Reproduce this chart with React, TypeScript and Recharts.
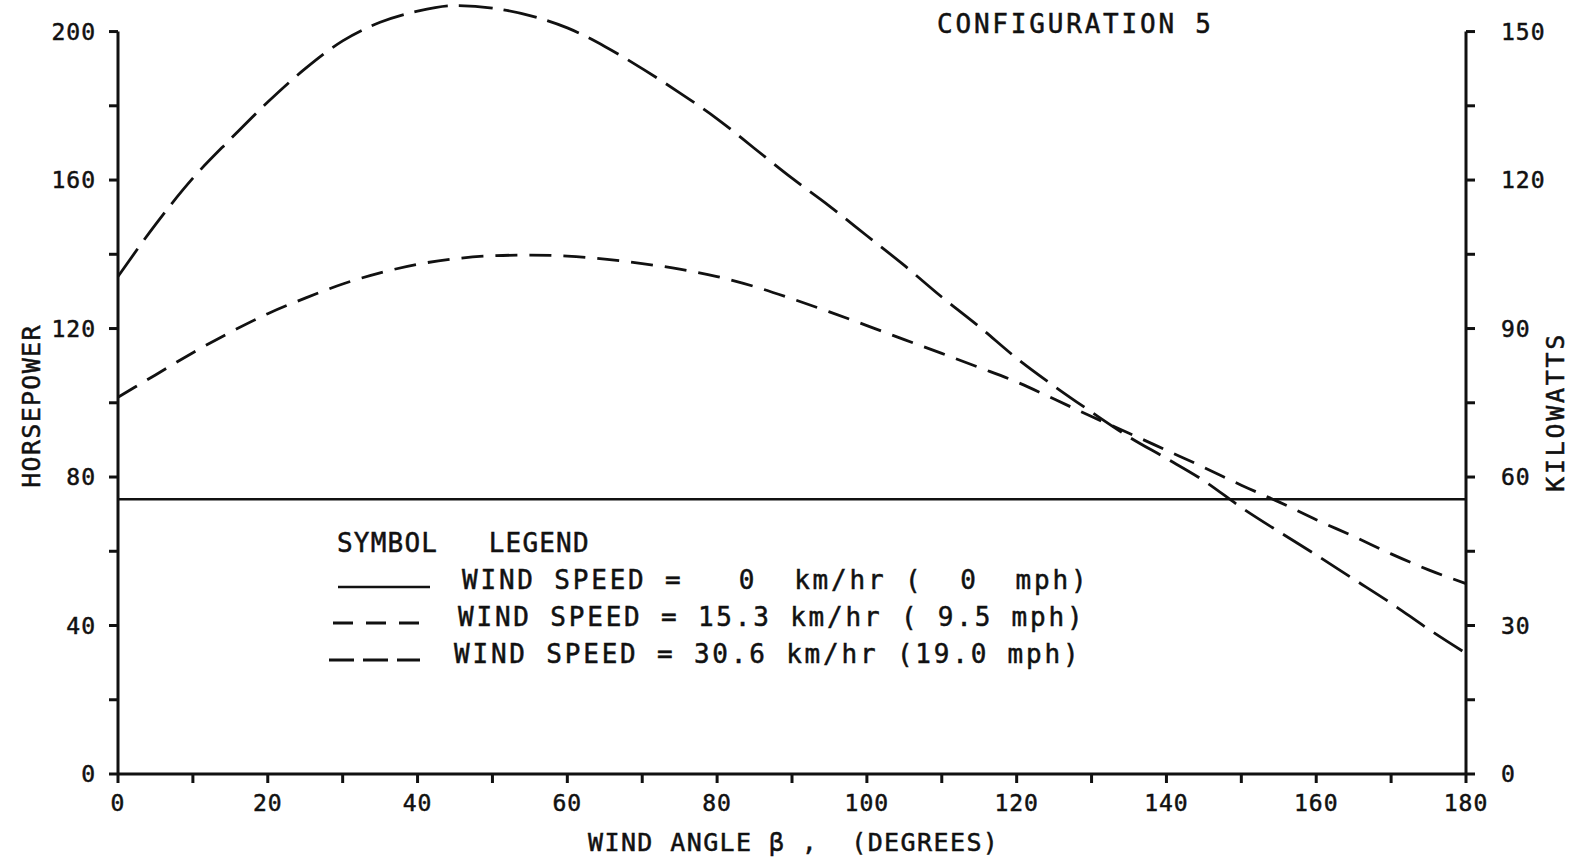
import { LineChart, Line, XAxis, YAxis, ReferenceLine } from 'recharts'

// wind angle beta, degrees
const angles = [
  0, 5, 10, 15, 20, 25, 30, 35, 40, 45, 50, 55, 60, 65, 70, 75, 80, 85, 90,
  95, 100, 105, 110, 115, 120, 125, 130, 135, 140, 145, 150, 155, 160, 165, 170, 175, 180,
]

// horsepower at 30.6 km/hr (19.0 mph)
const hpWind306 = [
  134, 148, 160.5, 171, 181, 190, 197.5, 202.5, 205.5, 207, 206.3, 204.3, 201, 196, 190,
  183.5, 176.5, 168.5, 160.5, 153, 145, 137, 128.5, 120.5, 112, 104.5, 97.5, 90.8, 85,
  79, 71.8, 65.3, 59, 52.5, 46, 39, 32.5,
]

// horsepower at 15.3 km/hr (9.5 mph)
const hpWind153 = [
  101.5, 107.5, 113.5, 119, 124, 128.2, 132, 135, 137.3, 138.8, 139.6, 139.8, 139.5, 138.7,
  137.5, 136, 134, 131.3, 128, 124.5, 120.8, 117, 113.3, 109.5, 105.6, 101, 96.3, 91.8,
  87.2, 82.6, 77.8, 73.3, 68.5, 64, 59.3, 55, 51.3,
]

// calm air, 0 km/hr
const calmAngles = [0, 180]
const calmHp = [74, 74]

const angleTicks = [0, 10, 20, 30, 40, 50, 60, 70, 80, 90, 100, 110, 120, 130, 140, 150, 160, 170, 180]
const hpTicks = [0, 20, 40, 60, 80, 100, 120, 140, 160, 180, 200]
const kwTicks = [0, 15, 30, 45, 60, 75, 90, 105, 120, 135, 150]

// the frame stops at 200 hp / 150 kW, the scale runs a little higher so the
// 30.6 km/hr peak can rise above the top tick without being clipped
const HP_TOP = 208.5
const KW_TOP = (HP_TOP * 150) / 200

const FONT = "'DejaVu Sans Mono', monospace"
const INK = '#111'
const SHORT_DASH = '22 12'
const LONG_DASH = '34 11'

const data = angles.map((a, i) => ({ angle: a, fast: hpWind306[i], slow: hpWind153[i] }))
const calmData = calmAngles.map((a, i) => ({ angle: a, calm: calmHp[i] }))

// plotter lettering is a bit heavier than the regular face
const tickStyle = { fontSize: 23, fill: INK, fontFamily: FONT, letterSpacing: 1, stroke: INK, strokeWidth: 0.5 }
const tickLine = { stroke: INK, strokeWidth: 3 }
const labelStyle = { fontFamily: FONT, fill: INK, stroke: INK, strokeWidth: 0.5, whiteSpace: 'pre' as const }

export default function App() {
  return (
    <div style={{ position: 'absolute', left: 0, top: 0, width: 1575, height: 859, background: '#fff' }}>
      <LineChart width={1575} height={859} data={data} margin={{ top: 0, right: 0, left: 0, bottom: 0 }}>
        <XAxis
          dataKey="angle"
          type="number"
          domain={[0, 180]}
          ticks={angleTicks}
          tickFormatter={(v) => (v % 20 === 0 ? String(v) : '')}
          height={85}
          tick={tickStyle}
          tickLine={tickLine}
          tickSize={9}
          tickMargin={12}
          stroke={INK}
          strokeWidth={3}
          allowDuplicatedCategory={false}
        />
        <YAxis
          yAxisId="hp"
          type="number"
          domain={[0, HP_TOP]}
          ticks={hpTicks}
          tickFormatter={(v) => (v % 40 === 0 ? String(v) : '')}
          width={118}
          tick={tickStyle}
          tickLine={tickLine}
          axisLine={false}
          tickSize={9}
          tickMargin={13}
        />
        <YAxis
          yAxisId="kw"
          orientation="right"
          type="number"
          domain={[0, KW_TOP]}
          ticks={kwTicks}
          tickFormatter={(v) => (v % 30 === 0 ? String(v) : '')}
          width={109}
          tick={tickStyle}
          tickLine={tickLine}
          axisLine={false}
          tickSize={9}
          tickMargin={26}
        />
        {/* side frame lines, 0 to 200 hp */}
        <ReferenceLine
          yAxisId="hp"
          segment={[{ x: 0, y: 0 }, { x: 0, y: 200 }]}
          stroke={INK}
          strokeWidth={3}
          ifOverflow="visible"
        />
        <ReferenceLine
          yAxisId="hp"
          segment={[{ x: 180, y: 0 }, { x: 180, y: 200 }]}
          stroke={INK}
          strokeWidth={3}
          ifOverflow="visible"
        />
        {/* keeps the kilowatt axis bound to a series; drawn with no stroke */}
        <Line
          yAxisId="kw"
          dataKey="slow"
          stroke="none"
          dot={false}
          activeDot={false}
          legendType="none"
          isAnimationActive={false}
        />
        <Line
          yAxisId="hp"
          data={calmData}
          dataKey="calm"
          stroke={INK}
          strokeWidth={2.6}
          dot={false}
          type="linear"
          isAnimationActive={false}
        />
        <Line
          yAxisId="hp"
          dataKey="slow"
          stroke={INK}
          strokeWidth={2.8}
          strokeDasharray={SHORT_DASH}
          dot={false}
          type="monotone"
          isAnimationActive={false}
        />
        <Line
          yAxisId="hp"
          dataKey="fast"
          stroke={INK}
          strokeWidth={2.8}
          strokeDasharray={LONG_DASH}
          dot={false}
          type="monotone"
          isAnimationActive={false}
        />
      </LineChart>

      <svg width={1575} height={859} style={{ position: 'absolute', left: 0, top: 0, pointerEvents: 'none' }}>
        <text x={937} y={24} dominantBaseline="central" fontSize={26} letterSpacing={2.8} style={labelStyle}>
          CONFIGURATION 5
        </text>
        <text
          transform="translate(31,406) rotate(-90)"
          textAnchor="middle"
          dominantBaseline="central"
          fontSize={25}
          letterSpacing={1.3}
          style={labelStyle}
        >
          HORSEPOWER
        </text>
        <text
          transform="translate(1555,412) rotate(-90)"
          textAnchor="middle"
          dominantBaseline="central"
          fontSize={25}
          letterSpacing={2.7}
          style={labelStyle}
        >
          KILOWATTS
        </text>
        <text x={588} y={842} dominantBaseline="central" fontSize={25} letterSpacing={1.4} style={labelStyle}>
          {'WIND ANGLE β ,  (DEGREES)'}
        </text>

        {/* symbol legend */}
        <text x={337} y={543} dominantBaseline="central" fontSize={26} letterSpacing={1.2} style={labelStyle}>
          {'SYMBOL   LEGEND'}
        </text>
        <line x1={338} x2={430} y1={587} y2={587} stroke={INK} strokeWidth={2.6} />
        <text x={462} y={580} dominantBaseline="central" fontSize={26} letterSpacing={2.8} style={labelStyle}>
          {'WIND SPEED =   0  km/hr (  0  mph)'}
        </text>
        <line x1={333} x2={420} y1={623} y2={623} stroke={INK} strokeWidth={2.8} strokeDasharray="20 13" />
        <text x={458} y={617} dominantBaseline="central" fontSize={26} letterSpacing={2.8} style={labelStyle}>
          {'WIND SPEED = 15.3 km/hr ( 9.5 mph)'}
        </text>
        <line x1={329} x2={420} y1={660} y2={660} stroke={INK} strokeWidth={2.8} strokeDasharray="25 9" />
        <text x={454} y={654} dominantBaseline="central" fontSize={26} letterSpacing={2.8} style={labelStyle}>
          {'WIND SPEED = 30.6 km/hr (19.0 mph)'}
        </text>
      </svg>
    </div>
  )
}
